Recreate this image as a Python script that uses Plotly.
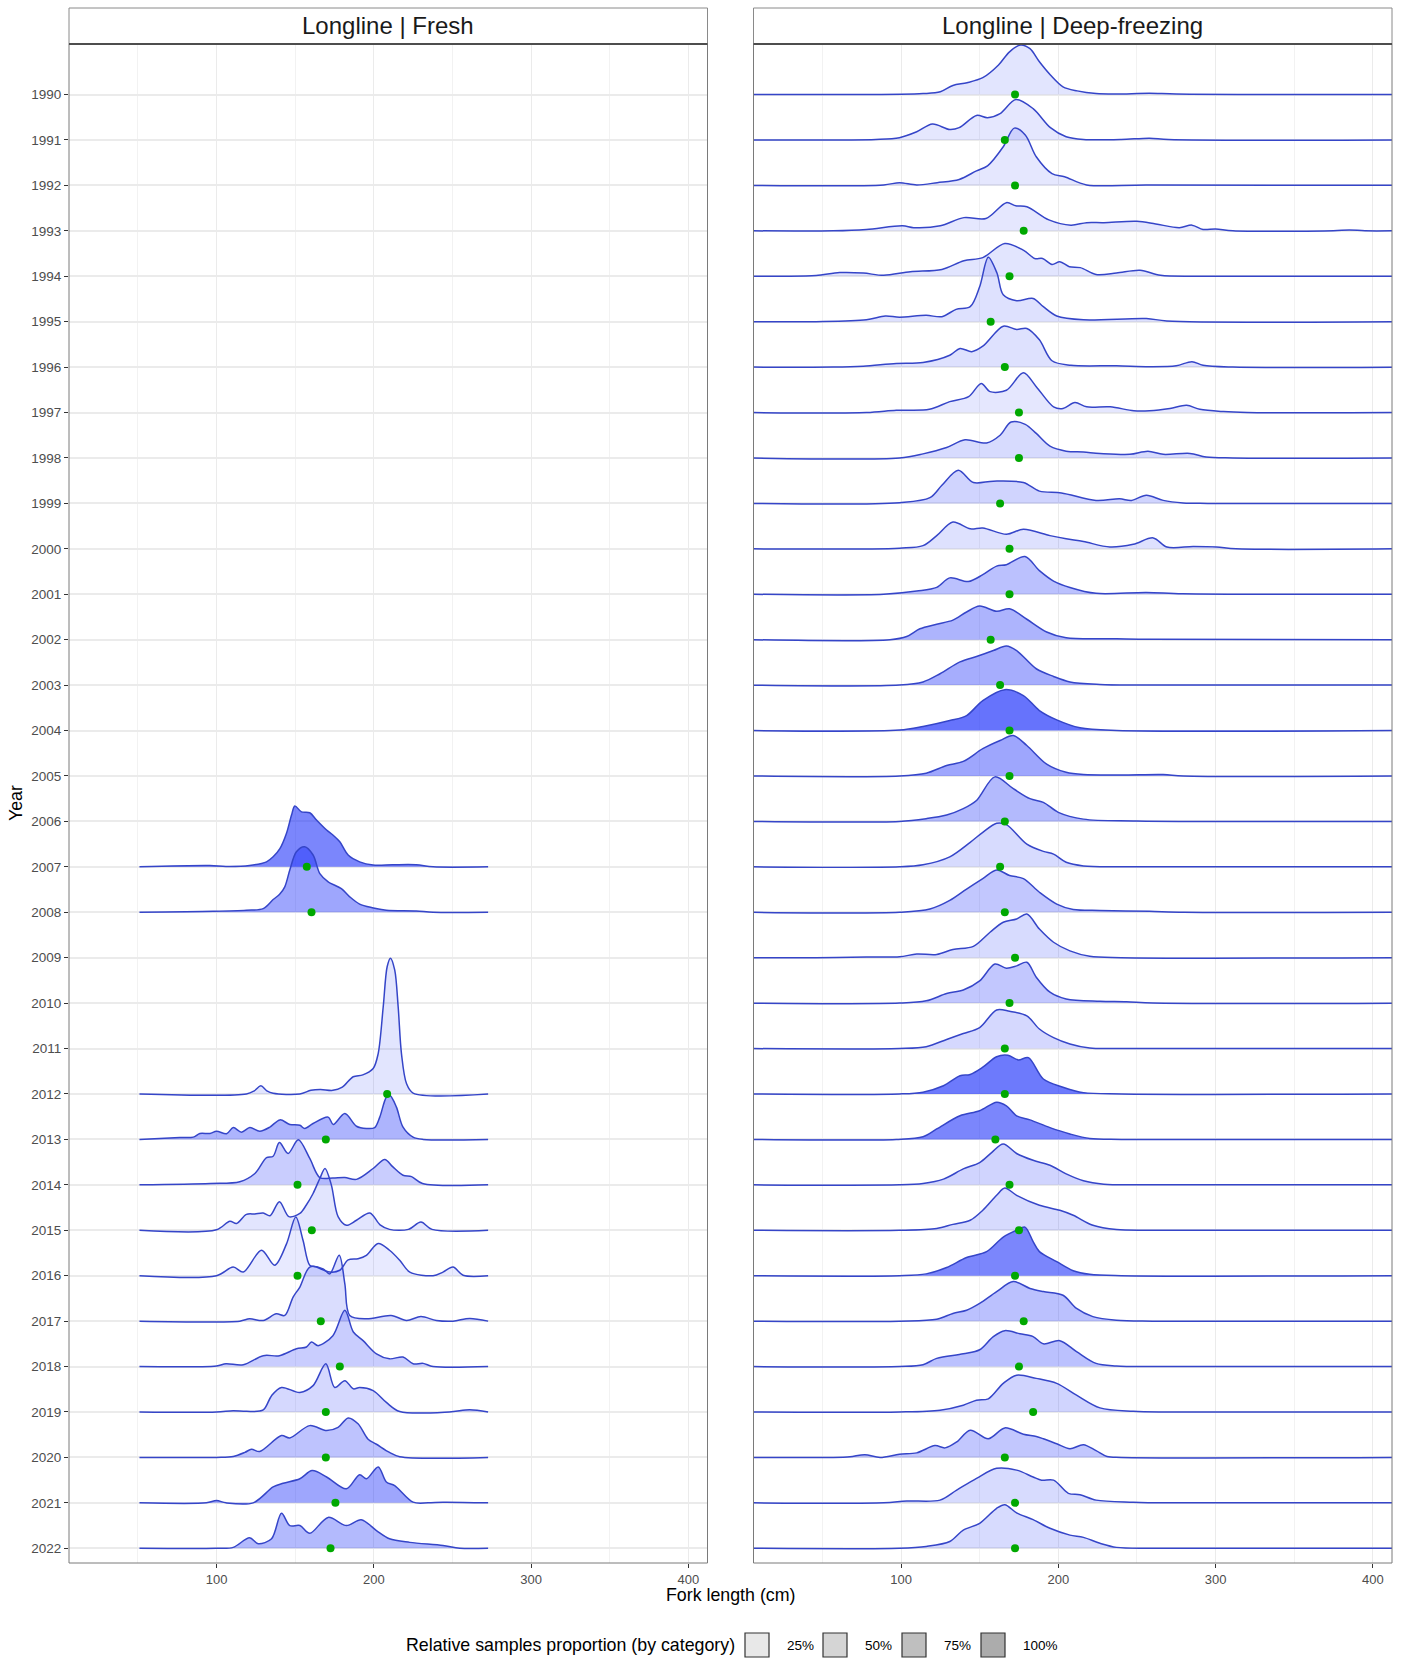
import plotly.graph_objects as go

W, H = 1404, 1658

# ---------------- data ----------------
# Fresh (left panel): knots of the density ridges (fork length cm, height in row units)
fresh_years = [2007, 2008, 2012, 2013, 2014, 2015, 2016, 2017, 2018, 2019, 2020, 2021, 2022]
fresh_x = {
    2007: [51, 95.8, 106, 121, 131.8, 136, 140.3, 144.5, 147.7, 149.8, 154, 159.3, 163.6, 170, 174, 178.4, 183.7, 191, 199.6, 212, 227, 237.7, 272.7],
    2008: [51, 98, 119, 129.7, 136, 140, 143.4, 146.6, 150.8, 156, 161.4, 165.7, 171, 179.4, 184.7, 191, 199, 208, 227, 237.7, 272.7],
    2012: [51, 119, 124, 128.2, 132, 136, 153, 160, 166, 174, 180, 186.9, 193, 199.6, 202.8, 206, 208.5, 210.6, 213.3, 215.5, 217.6, 220.8, 225, 272.7],
    2013: [51, 76.7, 85.2, 89.4, 95.8, 100, 106.4, 110.6, 115.9, 121.2, 127.5, 133.9, 140.3, 146.6, 153, 156.1, 161.4, 171, 174.2, 181.6, 189, 195.3, 200.6, 203.8, 208, 210.2, 214.4, 218.6, 225, 231.4, 272.7],
    2014: [51, 96, 114.8, 124.4, 131.8, 136, 140, 145.5, 152, 159.3, 165.7, 174, 181.6, 189, 199.6, 207, 212, 218.6, 224, 231, 272.7],
    2015: [51, 100, 108.5, 112.7, 119, 124.4, 129.7, 134, 140, 146, 153, 157, 161.4, 165.7, 169, 173, 177.3, 182.6, 189, 197.5, 204, 210, 222, 230, 237, 272.7],
    2016: [51, 100, 110.6, 117, 128.6, 137, 144.5, 150.4, 155, 159.3, 163.6, 172, 178.4, 183.7, 190, 195.3, 202.8, 210, 216.5, 222.9, 237.7, 244, 250.4, 256.8, 272.7],
    2017: [51, 114.8, 121, 129.7, 138, 143.4, 148.7, 153, 159.3, 167.8, 172, 178, 181.6, 184.7, 195.3, 211, 220.8, 230, 239.8, 250.4, 261, 272.7],
    2018: [51, 100, 106, 117, 129.7, 140, 150.8, 157.2, 160.4, 164.6, 174, 181.6, 187, 193.2, 201.7, 210, 218.6, 225, 231.4, 237.7, 272.7],
    2019: [51, 100, 110.6, 119, 129.7, 135, 141.3, 153, 161.4, 169.5, 175.2, 181.6, 187, 191, 199.6, 208, 216.5, 248, 261, 272.7],
    2020: [51, 100, 110.6, 118, 122.2, 127.5, 141.3, 146.6, 159.3, 170, 177.3, 183.7, 190, 196.4, 201.7, 210, 216.5, 272.7],
    2021: [51, 93.6, 100, 106, 123.3, 136, 142.4, 153, 160.8, 170, 182.6, 191, 195.3, 202.8, 208, 213.3, 225, 234.5, 244, 272.7],
    2022: [51, 100, 110.6, 121, 126.5, 135, 141.3, 146.6, 153, 159.3, 171, 182.6, 192, 201.7, 210, 222.9, 244, 254.7, 272.7],
}
fresh_h = {
    2007: [0, 0.03, 0.01, 0.03, 0.11, 0.22, 0.4, 0.74, 1.14, 1.34, 1.21, 1.19, 1.03, 0.81, 0.7, 0.55, 0.26, 0.11, 0.04, 0.045, 0.045, 0, 0],
    2008: [0, 0.02, 0.045, 0.08, 0.28, 0.39, 0.56, 0.93, 1.33, 1.44, 1.26, 0.85, 0.67, 0.52, 0.34, 0.18, 0.1, 0.045, 0.03, 0, 0],
    2012: [0, 0, 0.07, 0.18, 0.07, 0.015, 0, 0.08, 0.1, 0.08, 0.15, 0.38, 0.42, 0.56, 0.89, 1.92, 2.8, 2.99, 2.73, 1.92, 0.89, 0.23, 0.02, 0],
    2013: [0, 0.04, 0.05, 0.13, 0.13, 0.18, 0.125, 0.26, 0.16, 0.26, 0.18, 0.27, 0.43, 0.33, 0.31, 0.24, 0.35, 0.49, 0.33, 0.57, 0.29, 0.24, 0.26, 0.49, 0.93, 0.97, 0.71, 0.27, 0.05, 0, 0],
    2014: [0, 0.03, 0.07, 0.25, 0.6, 0.63, 0.93, 0.69, 0.99, 0.58, 0.16, 0.15, 0.16, 0.12, 0.36, 0.56, 0.4, 0.21, 0.18, 0.03, 0],
    2015: [0, 0.01, 0.2, 0.15, 0.35, 0.36, 0.38, 0.32, 0.63, 0.3, 0.37, 0.55, 0.81, 1.14, 1.36, 1.0, 0.3, 0.11, 0.22, 0.38, 0.12, 0.02, 0.02, 0.18, 0.02, 0],
    2016: [0, 0, 0.19, 0.08, 0.56, 0.23, 0.7, 1.29, 0.78, 0.23, 0.19, 0.08, 0.12, 0.35, 0.375, 0.45, 0.71, 0.56, 0.34, 0.08, 0, 0.08, 0.19, 0.01, 0],
    2017: [0, 0, 0.05, 0.015, 0.16, 0.125, 0.53, 0.75, 1.19, 1.15, 1.04, 1.45, 0.82, 0.125, 0.05, 0.125, 0.015, 0.1, 0.015, 0, 0.06, 0],
    2018: [0, 0.015, 0.06, 0.04, 0.24, 0.24, 0.39, 0.43, 0.54, 0.46, 0.68, 1.24, 0.76, 0.57, 0.28, 0.17, 0.21, 0.06, 0.07, 0, 0],
    2019: [0, 0, 0.03, 0.015, 0.045, 0.36, 0.54, 0.43, 0.58, 1.06, 0.54, 0.69, 0.51, 0.54, 0.47, 0.21, 0.01, 0, 0.05, 0],
    2020: [0, 0, 0.02, 0.11, 0.18, 0.13, 0.48, 0.43, 0.7, 0.59, 0.66, 0.87, 0.74, 0.4, 0.29, 0.11, 0.015, 0],
    2021: [0, 0, 0.05, 0, 0, 0.35, 0.43, 0.53, 0.71, 0.57, 0.31, 0.62, 0.53, 0.79, 0.46, 0.38, 0.015, 0, 0.015, 0],
    2022: [0, 0, 0.02, 0.23, 0.1, 0.21, 0.77, 0.5, 0.5, 0.33, 0.68, 0.5, 0.63, 0.39, 0.21, 0.13, 0.06, 0, 0],
}
fresh_prop = [0.85, 0.6, 0.12, 0.5, 0.3, 0.12, 0.08, 0.18, 0.3, 0.22, 0.38, 0.6, 0.45]
fresh_mean = [157.4, 160.4, 208.5, 169.5, 151.5, 160.6, 151.5, 166.3, 178.4, 169.5, 169.5, 175.6, 172.5]

# Deep-freezing (right panel)
deep_years = list(range(1990, 2023))
deep_x = {
    1990: [5, 100, 114, 125, 133, 142, 152, 162, 169, 176, 182, 188, 195, 203, 212, 224, 237, 258, 275, 415],
    1991: [5, 84, 99, 110, 120, 131, 137, 148, 155, 163, 173, 184, 195, 205, 216, 240, 258, 270, 415],
    1992: [5, 89, 99, 110, 123, 137, 148, 155, 165, 172, 179, 186, 196, 204, 218, 256, 415],
    1993: [5, 57, 78, 101, 108, 125, 140, 154, 167, 173, 180, 194, 208, 218, 229, 250, 262, 277, 285, 292, 300, 311, 375, 385, 395, 415],
    1994: [5, 25, 46, 61, 76, 89, 106, 126, 140, 152, 166, 178, 185, 190, 196, 201, 207, 214, 224, 237, 252, 265, 290, 415],
    1995: [5, 46, 78, 90, 99, 116, 126, 135, 144, 150, 155.5, 161, 165, 173.5, 184, 190.5, 199, 216, 256, 269, 415],
    1996: [5, 57, 76, 97, 114, 131, 137.5, 145, 152, 165, 173.5, 180, 188, 196, 208, 237, 258, 275, 285, 292, 311, 415],
    1997: [5, 78, 97, 118, 131, 143, 151, 156.6, 167, 177.8, 186, 197, 203, 210.6, 218, 233, 248, 258, 271, 281.6, 290, 305, 320, 415],
    1998: [5, 99, 114, 129, 140.7, 154.4, 163, 170, 179, 186, 194.7, 205, 216, 226.5, 245.5, 257, 266.7, 283.7, 294, 311, 415],
    1999: [5, 99, 118.4, 126, 136.4, 146, 158.7, 177.8, 188, 202, 224, 239, 246.6, 256, 266.7, 279.4, 295, 415],
    2000: [5, 99, 114, 122.7, 133, 144, 152, 167, 177.8, 194.7, 205, 216, 232.8, 247.7, 260.4, 269, 285.8, 300.6, 313, 415],
    2001: [5, 89, 110, 122.7, 131, 142.8, 152, 160.8, 167, 178.8, 188, 197, 207.4, 224, 256, 279, 415],
    2002: [5, 93, 103.6, 112, 122.7, 133, 141.7, 150, 160.8, 169, 180, 192.6, 205, 237, 258, 415],
    2003: [5, 99, 114, 124.8, 137.5, 148, 158.7, 167, 173.5, 186, 197, 207.4, 226.5, 250, 415],
    2004: [5, 99, 114, 131, 141.7, 152, 166, 177.8, 188, 199, 213.8, 237, 415],
    2005: [5, 99, 116, 129, 139.6, 152, 163, 171.4, 180, 192.6, 205, 216, 240, 266.7, 279.4, 415],
    2006: [5, 99, 116, 129, 139.6, 148, 159.7, 171.4, 182, 190.5, 200, 216, 250, 415],
    2007: [5, 99, 114, 131, 144, 152, 160.8, 167, 180, 190.5, 197, 205, 216, 240, 415],
    2008: [5, 99, 118.4, 131, 141.7, 152, 160.8, 169, 177.8, 188, 199, 209.5, 226.5, 258, 280, 415],
    2009: [5, 46, 78, 99, 110, 122.7, 133, 146, 156.6, 165, 173.5, 180, 188, 197, 207.4, 220, 240, 415],
    2010: [5, 99, 116, 129, 139.6, 150, 159.7, 167, 173.5, 180, 186, 194.7, 205, 226.5, 243.4, 260, 415],
    2011: [5, 99, 116, 129, 139.6, 150, 160.8, 169, 180, 188, 197, 207.4, 220, 240, 415],
    2012: [5, 99, 114, 127, 137.5, 144, 152, 160.8, 168, 174.6, 181, 190.5, 203, 216, 240, 415],
    2013: [5, 97, 114, 122.7, 137.5, 150, 160.8, 167, 173.5, 182, 194.7, 207.4, 220, 240, 415],
    2014: [5, 99, 114, 127, 139.6, 150, 157.6, 165, 173.5, 184, 194.7, 205, 216, 229, 250, 415],
    2015: [5, 99, 122.7, 133, 144, 152, 160.8, 166, 173.5, 188, 201, 209.5, 222, 237, 260, 415],
    2016: [5, 99, 116, 129, 141.7, 154.4, 165, 173.5, 178.8, 184, 188, 199, 209.5, 220, 240, 415],
    2017: [5, 99, 122.7, 133, 141.7, 150, 160.8, 171.4, 182, 190.5, 203, 211.6, 222, 237, 260, 415],
    2018: [5, 99, 114, 122.7, 139.6, 150, 158.7, 166, 175.6, 184, 190.5, 201, 211.6, 224, 237, 260, 415],
    2019: [5, 99, 124.8, 139.6, 148, 155.5, 165, 173.5, 186, 199, 211.6, 226.5, 247.7, 270, 415],
    2020: [5, 57, 67.6, 77, 86.7, 99, 110, 121.6, 128, 135.4, 144, 155.5, 166, 177.8, 186, 190.5, 199, 207.4, 216, 224, 231, 240, 415],
    2021: [5, 89, 103.6, 124.8, 135.4, 148, 160.8, 173.5, 184, 189.4, 197, 206.4, 213.8, 224, 247.7, 270, 415],
    2022: [5, 99, 116, 131, 139.6, 150, 160.8, 166, 173.5, 184, 194.7, 207.4, 216, 226.5, 237, 260, 415],
}
deep_h = {
    1990: [0, 0.005, 0.02, 0.06, 0.2, 0.26, 0.37, 0.65, 0.94, 1.09, 1.01, 0.72, 0.43, 0.17, 0.08, 0.02, 0.01, 0.03, 0.01, 0],
    1991: [0, 0.01, 0.05, 0.18, 0.35, 0.23, 0.27, 0.54, 0.49, 0.58, 0.89, 0.69, 0.27, 0.07, 0.01, 0.01, 0.04, 0.01, 0],
    1992: [0, 0.01, 0.06, 0.01, 0.06, 0.13, 0.32, 0.43, 0.85, 1.26, 1.11, 0.63, 0.26, 0.19, 0.01, 0.01, 0],
    1993: [0, 0, 0.03, 0.11, 0.07, 0.11, 0.29, 0.27, 0.62, 0.55, 0.53, 0.24, 0.125, 0.18, 0.18, 0.21, 0.15, 0.07, 0.125, 0.03, 0.04, 0, 0, 0.02, 0, 0],
    1994: [0, 0, 0.015, 0.08, 0.07, 0.02, 0.1, 0.15, 0.34, 0.41, 0.72, 0.57, 0.39, 0.39, 0.26, 0.32, 0.21, 0.19, 0.04, 0.07, 0.13, 0.02, 0, 0],
    1995: [0, 0, 0.04, 0.125, 0.1, 0.14, 0.11, 0.27, 0.33, 0.77, 1.42, 1.07, 0.59, 0.46, 0.51, 0.33, 0.125, 0.04, 0.07, 0.015, 0],
    1996: [0, 0, 0.02, 0.08, 0.1, 0.26, 0.41, 0.34, 0.46, 0.9, 0.83, 0.85, 0.6, 0.14, 0.04, 0.03, 0.01, 0.03, 0.12, 0.04, 0, 0],
    1997: [0, 0, 0.05, 0.07, 0.24, 0.35, 0.64, 0.46, 0.49, 0.875, 0.57, 0.125, 0.09, 0.22, 0.125, 0.125, 0.04, 0.04, 0.09, 0.16, 0.07, 0.02, 0, 0],
    1998: [0, 0, 0.09, 0.23, 0.4, 0.33, 0.5, 0.79, 0.74, 0.54, 0.26, 0.15, 0.13, 0.1, 0.08, 0.15, 0.08, 0.1, 0.02, 0, 0],
    1999: [0, 0.015, 0.125, 0.4, 0.73, 0.46, 0.49, 0.46, 0.27, 0.23, 0.066, 0.1, 0.066, 0.18, 0.066, 0.01, 0, 0],
    2000: [0, 0.015, 0.07, 0.29, 0.59, 0.44, 0.46, 0.32, 0.43, 0.29, 0.22, 0.16, 0.04, 0.1, 0.24, 0.04, 0.05, 0.04, 0, 0],
    2001: [0, 0, 0.07, 0.15, 0.36, 0.28, 0.43, 0.62, 0.65, 0.83, 0.52, 0.29, 0.15, 0.02, 0.04, 0.01, 0],
    2002: [0, 0, 0.07, 0.24, 0.34, 0.43, 0.61, 0.74, 0.625, 0.68, 0.45, 0.17, 0.04, 0.02, 0.007, 0],
    2003: [0, 0, 0.07, 0.25, 0.51, 0.63, 0.76, 0.86, 0.76, 0.36, 0.19, 0.07, 0.015, 0, 0],
    2004: [0, 0.01, 0.09, 0.22, 0.33, 0.66, 0.9, 0.77, 0.44, 0.235, 0.06, 0, 0],
    2005: [0, 0, 0.06, 0.23, 0.32, 0.6, 0.78, 0.89, 0.67, 0.26, 0.08, 0.03, 0.02, 0.03, 0, 0],
    2006: [0, 0, 0.06, 0.14, 0.28, 0.46, 0.98, 0.72, 0.5, 0.42, 0.2, 0.05, 0.01, 0],
    2007: [0, 0, 0.045, 0.22, 0.54, 0.76, 0.96, 0.93, 0.5, 0.34, 0.28, 0.1, 0.02, 0, 0],
    2008: [0, 0, 0.07, 0.26, 0.51, 0.74, 0.93, 0.81, 0.74, 0.44, 0.18, 0.06, 0.04, 0.02, 0, 0],
    2009: [0, 0, 0.015, 0.02, 0.08, 0.07, 0.18, 0.25, 0.56, 0.78, 0.85, 0.96, 0.63, 0.34, 0.15, 0.03, 0, 0],
    2010: [0, 0, 0.05, 0.21, 0.29, 0.49, 0.86, 0.77, 0.82, 0.9, 0.57, 0.24, 0.09, 0.04, 0.03, 0, 0],
    2011: [0, 0, 0.04, 0.2, 0.33, 0.46, 0.85, 0.82, 0.72, 0.43, 0.24, 0.1, 0.01, 0, 0],
    2012: [0, 0, 0.04, 0.18, 0.4, 0.43, 0.59, 0.82, 0.85, 0.75, 0.8, 0.33, 0.15, 0.03, 0, 0],
    2013: [0, 0, 0.06, 0.23, 0.52, 0.63, 0.82, 0.74, 0.52, 0.43, 0.26, 0.12, 0.02, 0, 0],
    2014: [0, 0, 0.03, 0.125, 0.35, 0.49, 0.71, 0.9, 0.69, 0.54, 0.43, 0.24, 0.09, 0.015, 0, 0],
    2015: [0, 0, 0.04, 0.13, 0.22, 0.44, 0.77, 0.93, 0.77, 0.55, 0.44, 0.33, 0.11, 0.015, 0, 0],
    2016: [0, 0, 0.04, 0.18, 0.4, 0.53, 0.85, 1.0, 1.07, 0.75, 0.53, 0.31, 0.11, 0.03, 0, 0],
    2017: [0, 0, 0.04, 0.17, 0.24, 0.39, 0.65, 0.87, 0.72, 0.65, 0.57, 0.28, 0.1, 0.02, 0, 0],
    2018: [0, 0, 0.04, 0.18, 0.28, 0.37, 0.66, 0.79, 0.72, 0.66, 0.5, 0.57, 0.33, 0.07, 0.015, 0, 0],
    2019: [0, 0, 0.04, 0.15, 0.26, 0.29, 0.63, 0.81, 0.74, 0.63, 0.37, 0.09, 0.015, 0, 0],
    2020: [0, 0, 0.015, 0.06, 0, 0.07, 0.1, 0.26, 0.21, 0.34, 0.6, 0.41, 0.65, 0.51, 0.46, 0.41, 0.3, 0.19, 0.28, 0.15, 0.02, 0, 0],
    2021: [0, 0, 0.04, 0.06, 0.28, 0.54, 0.76, 0.72, 0.57, 0.5, 0.5, 0.21, 0.18, 0.06, 0.015, 0, 0],
    2022: [0, 0, 0.04, 0.15, 0.4, 0.55, 0.88, 0.96, 0.78, 0.63, 0.44, 0.29, 0.24, 0.11, 0.02, 0, 0],
}
deep_prop = [0.12, 0.1, 0.1, 0.1, 0.12, 0.15, 0.15, 0.1, 0.2, 0.25, 0.15, 0.4, 0.5, 0.55,
             1.0, 0.6, 0.45, 0.2, 0.35, 0.2, 0.35, 0.22, 0.95, 0.85, 0.25, 0.2, 0.85, 0.4,
             0.4, 0.25, 0.35, 0.2, 0.2]
deep_mean = [172.5, 166, 172.5, 178, 169, 157, 166, 175, 175, 163, 169, 169, 157, 163, 169, 169,
             166, 163, 166, 172.5, 169, 166, 166, 160, 169, 175, 172.5, 178, 175, 184, 166, 172.5, 172.5]

x_ticks = [100, 200, 300, 400]
x_minor = [50, 150, 250, 350]
legend_labels = ["25%", "50%", "75%", "100%"]
legend_greys = ["#e8e8e8", "#d5d5d5", "#bfbfbf", "#acacac"]

# ---------------- style ----------------
FONT = "Liberation Sans, Arial, Helvetica, sans-serif"
LINE = "#3545c8"
DOT = "#00a800"
X_RANGE = [6.2, 412.2]
Y_RANGE = [2022.324, 1988.888]  # reversed


def py(p):
    return 1 - p / H


def px(p):
    return p / W


panels = [
    dict(xa="x", ya="y", x0=69, x1=707.5, title="Longline | Fresh",
         years=fresh_years, xs=fresh_x, hs=fresh_h, prop=fresh_prop, mean=fresh_mean),
    dict(xa="x2", ya="y2", x0=753.5, x1=1392, title="Longline | Deep-freezing",
         years=deep_years, xs=deep_x, hs=deep_h, prop=deep_prop, mean=deep_mean),
]

fig = go.Figure()
for p in panels:
    for i, yr in enumerate(p["years"]):
        alpha = 0.05 + 0.6 * p["prop"][i]
        fig.add_trace(go.Scatter(
            x=p["xs"][yr], y=[yr - h for h in p["hs"][yr]],
            mode="lines", line=dict(color=LINE, width=1.5, shape="spline", smoothing=0.9),
            fill="toself", fillcolor=f"rgba(20,40,250,{alpha:.3f})",
            xaxis=p["xa"], yaxis=p["ya"], hoverinfo="skip"))
    fig.add_trace(go.Scatter(
        x=p["mean"], y=p["years"], mode="markers",
        marker=dict(color=DOT, size=8, line=dict(width=0)),
        xaxis=p["xa"], yaxis=p["ya"], hoverinfo="skip"))

top, bot = 44, 1563
axis_common = dict(
    range=X_RANGE, tickvals=x_ticks, ticktext=[str(v) for v in x_ticks],
    showgrid=True, gridcolor="#ebebeb", gridwidth=1.4, zeroline=False, showline=False,
    ticks="outside", ticklen=4, tickcolor="#333333", tickwidth=1,
    tickfont=dict(family=FONT, size=13, color="#4d4d4d"),
    minor=dict(tickvals=x_minor, showgrid=True, gridcolor="#f2f2f2", gridwidth=1, ticks=""),
)
yaxis_common = dict(
    range=Y_RANGE, tickvals=deep_years, ticktext=[str(y) for y in deep_years],
    showgrid=True, gridcolor="#ebebeb", gridwidth=1.6, zeroline=False, showline=False,
    domain=[py(bot), py(top)],
)

fig.update_layout(
    width=W, height=H, margin=dict(l=0, r=0, t=0, b=0),
    paper_bgcolor="white", plot_bgcolor="white", showlegend=False,
    xaxis=dict(domain=[px(69), px(707.5)], anchor="y", **axis_common),
    xaxis2=dict(domain=[px(753.5), px(1392)], anchor="y2", **axis_common),
    yaxis=dict(anchor="x", ticks="outside", ticklen=4, tickcolor="#333333", tickwidth=1,
               tickfont=dict(family=FONT, size=13.5, color="#4d4d4d"), **yaxis_common),
    yaxis2=dict(anchor="x2", showticklabels=False, ticks="", **yaxis_common),
)

shapes = []
annotations = []
for p in panels:
    # panel border
    shapes.append(dict(type="rect", xref="paper", yref="paper",
                       x0=px(p["x0"]), x1=px(p["x1"]), y0=py(bot), y1=py(top),
                       line=dict(color="#7a7a7a", width=1), fillcolor="rgba(0,0,0,0)", layer="above"))
    # strip
    shapes.append(dict(type="rect", xref="paper", yref="paper",
                       x0=px(p["x0"]), x1=px(p["x1"]), y0=py(top), y1=py(8),
                       line=dict(color="#8a8a8a", width=1), fillcolor="white", layer="above"))
    shapes.append(dict(type="line", xref="paper", yref="paper",
                       x0=px(p["x0"]), x1=px(p["x1"]), y0=py(top), y1=py(top),
                       line=dict(color="#4d4d4d", width=2), layer="above"))
    annotations.append(dict(text=p["title"], xref="paper", yref="paper",
                            x=px((p["x0"] + p["x1"]) / 2), y=py(26), showarrow=False,
                            xanchor="center", yanchor="middle",
                            font=dict(family=FONT, size=24, color="#1a1a1a")))

annotations.append(dict(text="Fork length (cm)", xref="paper", yref="paper",
                        x=px(730), y=py(1595), showarrow=False, xanchor="center", yanchor="middle",
                        font=dict(family=FONT, size=17.8, color="black")))
annotations.append(dict(text="Year", xref="paper", yref="paper", textangle=-90,
                        x=px(16), y=py(803), showarrow=False, xanchor="center", yanchor="middle",
                        font=dict(family=FONT, size=17.8, color="black")))

# legend
annotations.append(dict(text="Relative samples proportion (by category)", xref="paper", yref="paper",
                        x=px(737), y=py(1645), showarrow=False, xanchor="right", yanchor="middle",
                        font=dict(family=FONT, size=17.8, color="black")))
sw_x = [745, 823, 902, 981]
for i, lab in enumerate(legend_labels):
    shapes.append(dict(type="rect", xref="paper", yref="paper",
                       x0=px(sw_x[i]), x1=px(sw_x[i] + 24), y0=py(1657), y1=py(1633),
                       line=dict(color="#333333", width=1.2), fillcolor=legend_greys[i]))
    annotations.append(dict(text=lab, xref="paper", yref="paper",
                            x=px(sw_x[i] + 40), y=py(1645), showarrow=False,
                            xanchor="left", yanchor="middle",
                            font=dict(family=FONT, size=13.5, color="black")))

fig.update_layout(shapes=shapes, annotations=annotations)
fig.write_html("out.html")
